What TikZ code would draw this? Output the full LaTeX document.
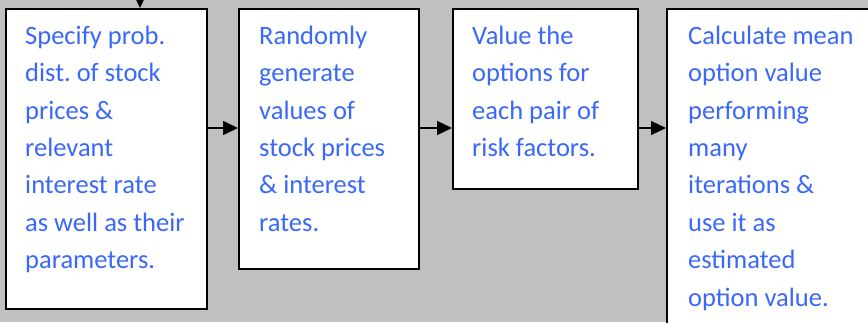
\documentclass[tikz,border=0pt]{standalone}
\usepackage{fontspec}
\setmainfont{Carlito}
\usetikzlibrary{arrows.meta}
\definecolor{panelgray}{RGB}{192,192,192}
\definecolor{steptext}{RGB}{58,104,250}
\newcommand{\firstline}{\rule{0pt}{26pt}}
\frenchspacing
\begin{document}
\begin{tikzpicture}[x=1pt,y=-1pt,
  stepbox/.style={draw=black,line width=1.7pt,fill=white,rectangle,inner sep=0pt,anchor=north west},
  steptxt/.style={anchor=north west,inner sep=0pt,align=left,text=steptext,
    font=\fontsize{26.5}{37.4}\selectfont},
  flow/.style={line width=1.3pt,-{Triangle[length=15pt,width=14pt]}}]
\useasboundingbox (0,0) rectangle (868,322);
\clip (0,0) rectangle (868,322);
\fill[panelgray] (0,0) rectangle (868,322);

% step boxes
\node[stepbox,minimum width=201pt,minimum height=300pt] (b1) at (5,8) {};
\node[stepbox,minimum width=180pt,minimum height=260pt] (b2) at (238,8) {};
\node[stepbox,minimum width=185pt,minimum height=180pt] (b3) at (452,8) {};
\node[stepbox,minimum width=230pt,minimum height=340pt] (b4) at (666,8) {};

% step texts (first baseline 26pt below the node top)
\node[steptxt] (t1) at (25,18) {\firstline Specify prob.\\dist. of stock\\prices \&\\relevant\\interest rate\\as well as their\\parameters.};
\node[steptxt] (t2) at (259,18) {\firstline Randomly\\generate\\values of\\stock prices\\\& interest\\rates.};
\node[steptxt] (t3) at (472,18) {\firstline Value the\\options for\\each pair of\\risk factors.};
\node[steptxt] (t4) at (688,18) {\firstline Calculate mean\\option value\\performing\\many\\iterations \&\\use it as\\estimated\\option value.};

% connectors
\coordinate (entry) at (140,-8);
\draw[flow] (entry) -- (entry |- b1.north);
\coordinate (m12) at (b1.east |- 0,128);
\draw[flow] (m12) -- (m12 -| b2.west);
\coordinate (m23) at (b2.east |- 0,128);
\draw[flow] (m23) -- (m23 -| b3.west);
\coordinate (m34) at (b3.east |- 0,128);
\draw[flow] (m34) -- (m34 -| b4.west);
\end{tikzpicture}
\end{document}
